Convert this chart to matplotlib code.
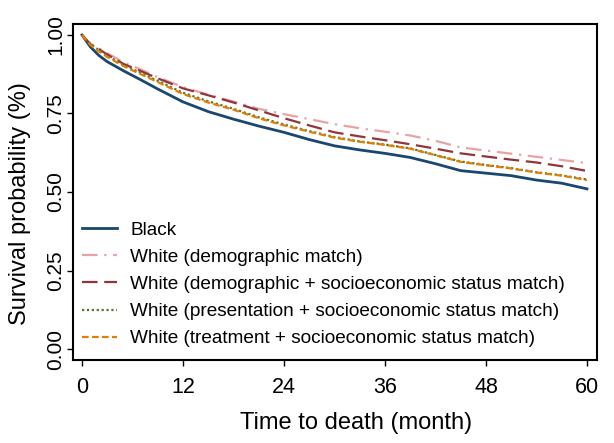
import matplotlib
matplotlib.use("Agg")
import matplotlib.pyplot as plt

plt.rcParams['font.family'] = ['Liberation Sans', 'DejaVu Sans']

# survival curves (month, probability)
months = [0, 1, 2, 3, 4, 5, 7, 9, 12, 15, 18, 21, 24, 27, 30, 33, 36, 39, 42, 45, 48, 51, 54, 57, 60]

black = [1.0, 0.962, 0.935, 0.915, 0.90, 0.885, 0.857, 0.828, 0.787, 0.756, 0.732, 0.71, 0.69,
         0.667, 0.647, 0.634, 0.623, 0.61, 0.59, 0.568, 0.56, 0.552, 0.538, 0.528, 0.51]
white_demo = [1.0, 0.972, 0.958, 0.942, 0.927, 0.912, 0.89, 0.866, 0.834, 0.81, 0.788, 0.765, 0.748,
              0.732, 0.716, 0.703, 0.692, 0.68, 0.663, 0.642, 0.632, 0.622, 0.612, 0.602, 0.592]
white_demo_ses = [1.0, 0.97, 0.955, 0.938, 0.922, 0.907, 0.885, 0.862, 0.83, 0.808, 0.785, 0.76, 0.735,
                  0.712, 0.69, 0.677, 0.665, 0.652, 0.638, 0.623, 0.613, 0.603, 0.594, 0.582, 0.567]
white_pres_ses = [1.0, 0.971, 0.952, 0.934, 0.919, 0.904, 0.879, 0.854, 0.816, 0.789, 0.765, 0.738, 0.715,
                  0.694, 0.675, 0.661, 0.651, 0.639, 0.618, 0.597, 0.586, 0.576, 0.563, 0.553, 0.54]
white_treat_ses = [1.0, 0.968, 0.948, 0.93, 0.915, 0.90, 0.875, 0.85, 0.812, 0.785, 0.762, 0.735, 0.712,
                   0.692, 0.673, 0.66, 0.65, 0.638, 0.617, 0.596, 0.585, 0.575, 0.562, 0.552, 0.538]

labels = ["Black",
          "White (demographic match)",
          "White (demographic + socioeconomic status match)",
          "White (presentation + socioeconomic status match)",
          "White (treatment + socioeconomic status match)"]

fig = plt.figure(figsize=(6.14, 4.43), dpi=100)
ax = fig.add_axes([73/614, 1-360/443, 524/614, 336/443])

ax.plot(months, black, color='#1a476f', lw=2.0, label=labels[0])
ax.plot(months, white_demo, color='#e8a3a5', lw=1.6, dashes=(7, 3, 1, 3), label=labels[1])
ax.plot(months, white_demo_ses, color='#90353b', lw=1.6, dashes=(7, 3), label=labels[2])
ax.plot(months, white_pres_ses, color='#55752f', lw=1.6, dashes=(1, 1.2), label=labels[3])
ax.plot(months, white_treat_ses, color='#e37e00', lw=1.6, dashes=(3, 1.5), label=labels[4])

ax.set_xlim(-1.07, 61.19)
ax.set_ylim(-0.035, 1.035)
ax.set_xticks([0, 12, 24, 36, 48, 60])
ax.set_yticks([0, 0.25, 0.5, 0.75, 1.0])
ax.set_yticklabels(['0.00', '0.25', '0.50', '0.75', '1.00'], rotation=90, va='center')
ax.tick_params(axis='x', labelsize=15.5, length=4, width=1, pad=8.5)
ax.tick_params(axis='y', labelsize=15, length=4, width=1, pad=1.5)
for s in ax.spines.values():
    s.set_linewidth(1.5)

ax.set_xlabel("Time to death (month)", fontsize=17, labelpad=10)
ax.xaxis.label.set_x(0.54)
ax.set_ylabel("Survival probability (%)", fontsize=17, labelpad=11)
ax.yaxis.label.set_y(0.465)

ax.legend(loc='upper left', bbox_to_anchor=(0.017, 0.413), frameon=False, fontsize=13.7,
          handlelength=1.85, handletextpad=0.68, labelspacing=0.52, borderpad=0, borderaxespad=0)

fig.savefig("out.png", dpi=100)
